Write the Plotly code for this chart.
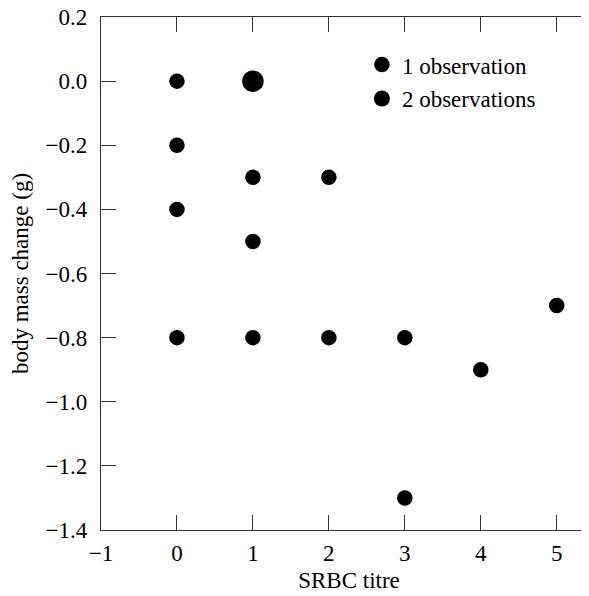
import plotly.graph_objects as go

# single-observation points
x_one = [0, 0, 0, 0, 1, 1, 1, 2, 2, 3, 3, 4, 5]
y_one = [0.0, -0.2, -0.4, -0.8, -0.3, -0.5, -0.8, -0.3, -0.8, -0.8, -1.3, -0.9, -0.7]
# two-observation points
x_two = [1]
y_two = [0.0]

x_ticks = [-1, 0, 1, 2, 3, 4, 5]
y_ticks = [-1.4, -1.2, -1.0, -0.8, -0.6, -0.4, -0.2, 0.0, 0.2]

FONT = "Liberation Serif"
FS = 23

fig = go.Figure()
fig.add_trace(go.Scatter(x=x_one, y=y_one, mode="markers", name="1 observation",
                         legendgroup="a",
                         marker=dict(size=15.5, color="black", line=dict(width=0))))
fig.add_trace(go.Scatter(x=x_two, y=y_two, mode="markers", name="2 observations",
                         legendgroup="b",
                         marker=dict(size=21.5, color="black", line=dict(width=0))))

axis_common = dict(showline=True, linecolor="#333", linewidth=1.3, mirror="ticks",
                   ticks="inside", ticklen=15, tickwidth=1.3, tickcolor="#333",
                   showgrid=False, zeroline=False, automargin=False,
                   ticklabeloverflow="allow",
                   tickfont=dict(family=FONT, size=FS, color="black"))

fig.update_xaxes(range=[-1, 5.53], tickvals=x_ticks,
                 ticktext=[str(v).replace("-", "\u2212") for v in x_ticks],
                 ticklabelstandoff=2,
                 title=dict(text="SRBC titre", font=dict(family=FONT, size=FS, color="black"),
                            standoff=7),
                 **axis_common)
fig.update_yaxes(range=[-1.4, 0.2], tickvals=y_ticks,
                 ticktext=[f"{v:.1f}".replace("-", "\u2212") for v in y_ticks],
                 ticklabelstandoff=8,
                 title=dict(text="body mass change (g)", font=dict(family=FONT, size=FS, color="black"),
                            standoff=14),
                 **axis_common)

fig.update_layout(
    width=589, height=596,
    margin=dict(l=93, r=0, t=9, b=74),
    paper_bgcolor="white", plot_bgcolor="white",
    showlegend=True,
    legend=dict(x=0.526, y=0.949, xanchor="left", yanchor="top",
                font=dict(family=FONT, size=FS, color="black"),
                bgcolor="rgba(0,0,0,0)", tracegroupgap=1, itemsizing="trace"),
)

fig.write_html("out.html")
